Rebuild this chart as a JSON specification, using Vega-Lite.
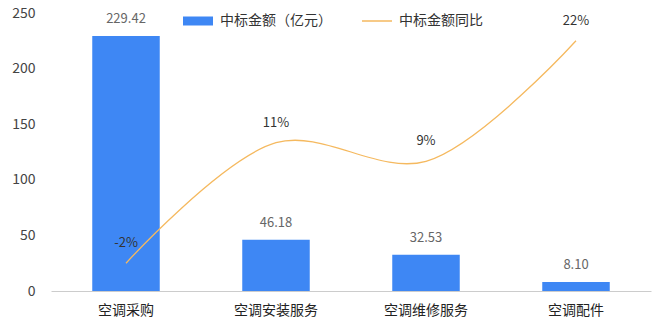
{
  "$schema": "https://vega.github.io/schema/vega-lite/v6.json",
  "width": 600,
  "height": 278,
  "autosize": "none",
  "padding": {"left": 51, "top": 13, "right": 9, "bottom": 40},
  "background": "#ffffff",
  "config": {"font": "Noto Sans CJK SC", "view": {"stroke": null}},
  "data": {
    "values": [
      {"category": "空调采购", "amount": 229.42, "amountLabel": "229.42", "yoy": -2, "yoyLabel": "-2%"},
      {"category": "空调安装服务", "amount": 46.18, "amountLabel": "46.18", "yoy": 11, "yoyLabel": "11%"},
      {"category": "空调维修服务", "amount": 32.53, "amountLabel": "32.53", "yoy": 9, "yoyLabel": "9%"},
      {"category": "空调配件", "amount": 8.10, "amountLabel": "8.10", "yoy": 22, "yoyLabel": "22%"}
    ]
  },
  "encoding": {
    "x": {
      "field": "category",
      "type": "nominal",
      "sort": null,
      "scale": {"paddingInner": 0.55, "paddingOuter": 0.275},
      "axis": {
        "title": null,
        "labelAngle": 0,
        "ticks": false,
        "domainColor": "#cccccc",
        "labelFontSize": 14,
        "labelColor": "#222222",
        "labelPadding": 12
      }
    }
  },
  "layer": [
    {
      "encoding": {
        "y": {
          "field": "amount",
          "type": "quantitative",
          "scale": {"domain": [0, 250], "nice": false},
          "axis": {
            "title": null,
            "values": [0, 50, 100, 150, 200, 250],
            "grid": false,
            "ticks": false,
            "domain": false,
            "labelFontSize": 14,
            "labelColor": "#444444",
            "labelPadding": 16
          }
        }
      },
      "layer": [
        {
          "mark": {"type": "bar", "color": "#3e87f4"},
          "encoding": {
            "color": {
              "datum": "中标金额（亿元）",
              "scale": {"range": ["#3e87f4"]},
              "legend": {
                "title": null,
                "orient": "none",
                "legendX": 131,
                "legendY": -8,
                "symbolType": "M-1,-0.3H1V0.3H-1Z",
                "symbolSize": 900,
                "symbolOpacity": 1,
                "labelFontSize": 14,
                "labelColor": "#333333",
                "labelOffset": 6
              }
            }
          }
        },
        {
          "mark": {"type": "text", "baseline": "bottom", "dy": -10, "fontSize": 13, "color": "#666666"},
          "encoding": {"text": {"field": "amountLabel"}}
        }
      ]
    },
    {
      "encoding": {
        "y": {
          "field": "yoy",
          "type": "quantitative",
          "scale": {"domain": [-5, 25], "nice": false},
          "axis": null
        }
      },
      "layer": [
        {
          "mark": {"type": "line", "interpolate": "catmull-rom", "strokeWidth": 1.3, "color": "#f5b95f"},
          "encoding": {
            "color": {
              "datum": "中标金额同比",
              "scale": {"range": ["#f5b95f"]},
              "legend": {
                "title": null,
                "orient": "none",
                "legendX": 310,
                "legendY": -8,
                "symbolType": "M-1,0H1",
                "symbolSize": 900,
                "symbolStrokeWidth": 1.5,
                "labelFontSize": 14,
                "labelColor": "#333333",
                "labelOffset": 6
              }
            }
          }
        },
        {
          "mark": {"type": "text", "baseline": "middle", "dy": -20, "fontSize": 13, "color": "#333333"},
          "encoding": {"text": {"field": "yoyLabel"}}
        }
      ]
    }
  ],
  "resolve": {"scale": {"y": "independent", "color": "independent"}}
}
